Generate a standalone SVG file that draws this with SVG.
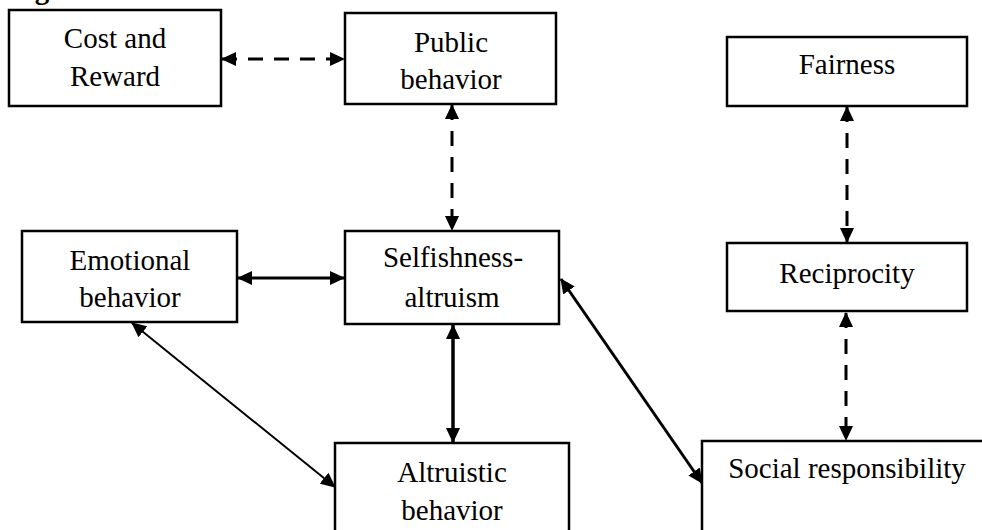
<svg xmlns="http://www.w3.org/2000/svg" width="982" height="530" viewBox="0 0 982 530">
<style>
.box{fill:#fff;stroke:#000;stroke-width:2.5}
.t{font-family:"Liberation Serif","Times New Roman",serif;font-size:29px;fill:#000;text-anchor:middle}
.c{fill:none;stroke:#000}
.d{stroke-width:3;stroke-dasharray:15 11}
</style>
<defs>
<marker id="ah" viewBox="0 0 15 14" refX="14" refY="7" markerWidth="15" markerHeight="14" markerUnits="userSpaceOnUse" orient="auto-start-reverse">
<path d="M0,0 L15,7 L0,14 z" fill="#000"/>
</marker>
</defs>
<rect width="982" height="530" fill="#fff"/>
<text x="9" y="-1" style="font-family:'Liberation Serif',serif;font-size:29px;font-weight:bold">Figure</text>
<g id="connectors">
<line class="c d" x1="222" y1="59" x2="344" y2="59" marker-start="url(#ah)" marker-end="url(#ah)"/>
<line class="c d" x1="452" y1="105" x2="452" y2="230" marker-start="url(#ah)" marker-end="url(#ah)"/>
<line class="c d" x1="847" y1="107" x2="847" y2="242" marker-start="url(#ah)" marker-end="url(#ah)"/>
<line class="c d" x1="846" y1="313" x2="846" y2="440" marker-start="url(#ah)" marker-end="url(#ah)"/>
<line class="c" stroke-width="3" x1="238" y1="278" x2="344" y2="278" marker-start="url(#ah)" marker-end="url(#ah)"/>
<line class="c" stroke-width="3.5" x1="453" y1="325" x2="453" y2="442" marker-start="url(#ah)" marker-end="url(#ah)"/>
<line class="c" stroke-width="3" x1="561" y1="279" x2="702" y2="483" marker-start="url(#ah)" marker-end="url(#ah)"/>
<line class="c" stroke-width="2" x1="132" y1="323" x2="335" y2="487" marker-start="url(#ah)" marker-end="url(#ah)"/>
</g>
<g id="cost">
<rect class="box" x="9" y="10" width="212" height="96"/>
<text class="t" x="115" y="48">Cost and</text>
<text class="t" x="115" y="86">Reward</text>
</g>
<g id="public">
<rect class="box" x="345" y="13" width="211" height="91"/>
<text class="t" x="451" y="52">Public</text>
<text class="t" x="451" y="89">behavior</text>
</g>
<g id="fairness">
<rect class="box" x="727" y="37" width="240" height="69"/>
<text class="t" x="847" y="74">Fairness</text>
</g>
<g id="emotional">
<rect class="box" x="22" y="231" width="215" height="91"/>
<text class="t" x="130" y="270">Emotional</text>
<text class="t" x="130" y="307">behavior</text>
</g>
<g id="selfishness">
<rect class="box" x="345" y="231" width="214" height="93"/>
<text class="t" x="453" y="267">Selfishness-</text>
<text class="t" x="452" y="307">altruism</text>
</g>
<g id="reciprocity">
<rect class="box" x="727" y="243" width="240" height="68"/>
<text class="t" x="847" y="283">Reciprocity</text>
</g>
<g id="altruistic">
<rect class="box" x="335" y="443" width="234" height="100"/>
<text class="t" x="452" y="482">Altruistic</text>
<text class="t" x="452" y="520">behavior</text>
</g>
<g id="social">
<rect class="box" x="702" y="441" width="300" height="100"/>
<text class="t" x="847" y="478">Social responsibility</text>
</g>
</svg>
